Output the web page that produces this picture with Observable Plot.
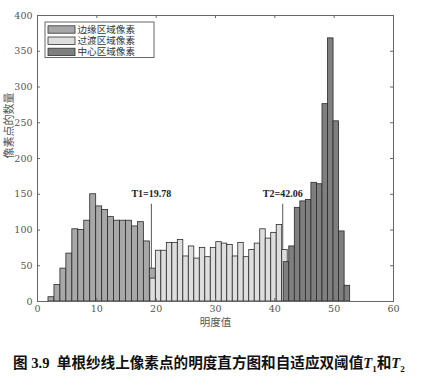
<!DOCTYPE html>
<html><head><meta charset="utf-8">
<script src="https://cdn.jsdelivr.net/npm/d3@7"></script>
<script src="https://cdn.jsdelivr.net/npm/@observablehq/plot@0.6"></script>
<style>
body{margin:0;background:#fff;width:422px;height:387px;overflow:hidden;}
#chart{width:422px;height:335px;}
#caption{margin-top:17px;padding-left:13px;font-size:14.6px;line-height:20px;font-weight:bold;white-space:nowrap;color:#111;
 font-family:"Liberation Serif","Noto Sans CJK SC",serif;}
#caption .cjk{font-family:"Noto Sans CJK SC",sans-serif;}
#caption sub{font-size:9px;}
</style></head><body>
<div id="chart"></div>
<div id="caption"><span>图 3.9</span>&nbsp; <span class="cjk">单根纱线上像素点的明度直方图和自适应双阈值</span><i>T</i><sub>1</sub><span class="cjk">和</span><i>T</i><sub>2</sub></div>
<script>
// ---- data ----
const seriesNames = ["边缘区域像素", "过渡区域像素", "中心区域像素"];
const edgeCounts = [6, 23, 46, 67, 101, 100, 113, 150, 133, 128, 118, 113, 113, 113, 105, 111, 84, 46];
const transCounts = [32, 71, 71, 82, 82, 86, 63, 77, 60, 75, 62, 75, 83, 81, 79, 63, 82, 62, 72, 81, 101, 88, 96, 107, 72];
const centerCounts = [55, 77, 131, 140, 142, 166, 164, 276, 368, 252, 98, 22];
const binStarts = [1.85, 19.02, 41.5];
const binWidths = [1.005, 0.926, 0.933];
const thresholdX = [19.19, 41.33];
const thresholdLabels = ["T1=19.78", "T2=42.06"];
const thresholdBottoms = [46, 72];
const thresholdTop = 136;
const thresholdLabelY = 150;
const xTicks = [0, 10, 20, 30, 40, 50, 60];
const yTicks = [0, 50, 100, 150, 200, 250, 300, 350, 400];
const xLabel = "明度值";
const yLabel = "像素点的数量";

// ---- styling ----
const fills = ["#a8a8a8", "#dedede", "#7f7f7f"];
const tickFont = "DejaVu Serif";

const allCounts = [edgeCounts, transCounts, centerCounts];
const seriesRows = allCounts.map((counts, s) => counts.map((c, i) => ({
  series: seriesNames[s],
  x1: binStarts[s] + i * binWidths[s],
  x2: binStarts[s] + (i + 1) * binWidths[s],
  y: c
})));
const thresholds = thresholdX.map((x, i) => ({x, label: thresholdLabels[i], bottom: thresholdBottoms[i]}));

const tickLenY = 4.2;  // in count units (~3px)
const tickLenX = 0.5;  // in x units (~3px)

const plot = Plot.plot({
  width: 422,
  height: 335,
  marginLeft: 37,
  marginRight: 29,
  marginTop: 15,
  marginBottom: 34,
  x: {domain: [0, 60]},
  y: {domain: [0, 400]},
  style: {background: "#fff"},
  marks: [
    ...seriesRows.map((rows, s) => Plot.rect(rows, {
      x1: "x1", x2: "x2", y1: () => 0, y2: "y",
      fill: fills[s], stroke: "#2a2a2a", strokeWidth: 0.8
    })),
    Plot.ruleX(thresholds, {x: "x", y1: "bottom", y2: () => thresholdTop, stroke: "#555", strokeWidth: 1}),
    Plot.text(thresholds, {x: "x", y: () => thresholdLabelY, text: "label",
      fontFamily: "Liberation Serif", fontWeight: "bold", fontSize: 10, fill: "#222"}),
    Plot.frame({stroke: "#666"}),
    Plot.ruleX(xTicks, {x: d => d, y1: () => 0, y2: () => tickLenY, stroke: "#666"}),
    Plot.ruleX(xTicks, {x: d => d, y1: () => 400, y2: () => 400 - tickLenY, stroke: "#666"}),
    Plot.ruleY(yTicks, {y: d => d, x1: () => 0, x2: () => tickLenX, stroke: "#666"}),
    Plot.ruleY(yTicks, {y: d => d, x1: () => 60, x2: () => 60 - tickLenX, stroke: "#666"}),
    Plot.axisX(xTicks, {tickSize: 0, tickPadding: 4, label: null, fontFamily: tickFont, fontSize: 9.5, fill: "#555"}),
    Plot.axisY(yTicks, {tickSize: 0, tickPadding: 5, label: null, fontFamily: tickFont, fontSize: 9.5, fill: "#555"}),
    Plot.text([xLabel], {frameAnchor: "bottom", dy: 24, text: d => d, fontFamily: "Noto Sans CJK SC", fontSize: 10.5, fill: "#555"}),
    Plot.text([yLabel], {frameAnchor: "left", dx: -28, rotate: -90, text: d => d, fontFamily: "Noto Sans CJK SC", fontSize: 11, fill: "#555"})
  ]
});
document.getElementById("chart").appendChild(plot);

// legend
const svg = d3.select(plot);
const lg = svg.append("g").attr("text-anchor", "start");
lg.append("rect").attr("x", 45).attr("y", 22).attr("width", 109).attr("height", 35.5)
  .attr("fill", "#fff").attr("stroke", "#666").attr("stroke-width", 1);
seriesNames.forEach((name, i) => {
  const cy = 29.5 + 11.2 * i;
  lg.append("rect").attr("x", 48).attr("y", cy - 3.7).attr("width", 27).attr("height", 7.4)
    .attr("fill", fills[i]).attr("stroke", "#333").attr("stroke-width", 0.8);
  lg.append("text").attr("x", 77.5).attr("y", cy).attr("dominant-baseline", "central")
    .attr("text-anchor", "start")
    .attr("font-family", "'Liberation Serif', 'Noto Sans CJK SC', serif").attr("font-size", 9.6).attr("fill", "#333").text(name);
});
</script>
</body></html>
